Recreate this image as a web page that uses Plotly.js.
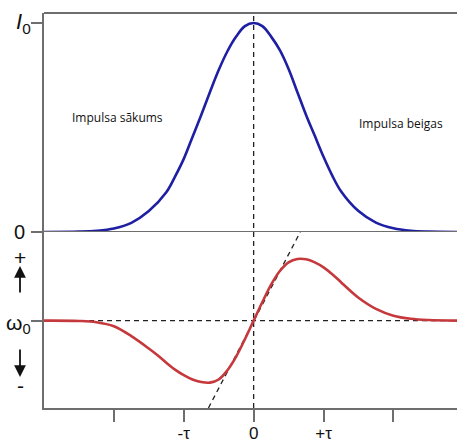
<!DOCTYPE html>
<html>
<head>
<meta charset="utf-8">
<script src="https://cdn.plot.ly/plotly-3.0.1.min.js"></script>
<style>html,body{margin:0;padding:0;background:#fff;}</style>
</head>
<body>
<div id="chart" style="width:457px;height:444px;"></div>
<script>
// time in units of tau
const tauI = [-3,-2.5,-2.25,-2,-1.75,-1.5,-1.25,-1.125,-1,-0.875,-0.75,-0.625,-0.5,-0.375,-0.25,-0.125,0,
              0.125,0.25,0.375,0.5,0.625,0.75,0.875,1,1.125,1.25,1.5,1.75,2,2.25,2.5,2.91];
// normalized intensity I/I0
const intensity = [0,0.002,0.006,0.017,0.044,0.10,0.19,0.265,0.35,0.455,0.56,0.67,0.775,0.865,0.935,0.985,1.0,
                   0.985,0.935,0.87,0.78,0.67,0.56,0.46,0.36,0.27,0.195,0.10,0.045,0.018,0.006,0.002,0];
// time for frequency curve
const tauW = [-3,-2.5,-2.25,-2,-1.75,-1.5,-1.375,-1.25,-1.125,-1,-0.875,-0.75,-0.625,-0.5,-0.375,-0.25,-0.125,0,
              0.125,0.25,0.375,0.5,0.625,0.75,0.875,1,1.125,1.25,1.375,1.5,1.75,2,2.25,2.5,2.91];
// frequency deviation from omega0 (relative units)
const freqDev = [0,-0.005,-0.025,-0.09,-0.25,-0.45,-0.56,-0.68,-0.79,-0.88,-0.95,-0.99,-1.0,-0.95,-0.80,-0.58,-0.30,0,
                 0.30,0.58,0.80,0.94,0.995,0.99,0.94,0.86,0.75,0.62,0.49,0.37,0.19,0.08,0.03,0.01,0];
// tangent at t = 0
const tangentX = [-0.647, 0.667];
const tangentY = [-1.41, 1.43];
// tick labels
const tickVals = [-2,-1,0,1,2];
const tickText = ['','-τ','0','+τ',''];

const axisCol = '#6e6e6e';
const W = 457, H = 444, L = 44, R = 0, T = 13, B = 36;
const pw = W - L - R, ph = H - T - B;
const split = (408 - 232) / ph;
const px = x => (x - L) / pw;
const py = y => (H - B - y) / ph;

const traces = [
  {x: tauI, y: intensity, xaxis: 'x', yaxis: 'y', mode: 'lines',
   line: {color: '#1f1fa3', width: 2.6, shape: 'spline', smoothing: 1}, hoverinfo: 'skip'},
  {x: tangentX, y: tangentY, xaxis: 'x', yaxis: 'y2', mode: 'lines',
   line: {color: '#222', width: 1.3, dash: '5px,4px'}, hoverinfo: 'skip'},
  {x: tauW, y: freqDev, xaxis: 'x', yaxis: 'y2', mode: 'lines',
   line: {color: '#c5383c', width: 2.6, shape: 'spline', smoothing: 1}, hoverinfo: 'skip'}
];

const fontL = 'Liberation Sans, Arial, sans-serif';
const layout = {
  width: W, height: H,
  margin: {l: L, r: R, t: T, b: B, pad: 0},
  paper_bgcolor: '#fff', plot_bgcolor: '#fff',
  showlegend: false,
  xaxis: {range: [-3, 2.91], anchor: 'y2', tickmode: 'array', tickvals: tickVals, ticktext: tickText,
          ticks: 'outside', ticklen: 12, tickwidth: 2, tickcolor: axisCol, ticklabelstandoff: -3,
          showline: true, linecolor: axisCol, linewidth: 2, showgrid: false, zeroline: false,
          tickfont: {family: fontL, size: 17, color: '#111'}, fixedrange: true},
  yaxis: {domain: [split, 1], range: [0, 1.048], anchor: 'x', tickmode: 'array', tickvals: [0, 1],
          ticks: 'outside', ticklen: 11, tickwidth: 2, tickcolor: axisCol, showticklabels: false,
          showline: true, linecolor: axisCol, linewidth: 2, showgrid: false, zeroline: false, fixedrange: true},
  yaxis2: {domain: [0, split], range: [-1.41, 1.43], anchor: 'x', tickmode: 'array', tickvals: [0],
          ticks: 'outside', ticklen: 11, tickwidth: 2, tickcolor: axisCol, showticklabels: false,
          showline: true, linecolor: axisCol, linewidth: 2, showgrid: false, zeroline: false, fixedrange: true},
  shapes: [
    {type: 'line', xref: 'paper', yref: 'paper', x0: 0, x1: 1, y0: 1, y1: 1,
     line: {color: axisCol, width: 2.2}},
    {type: 'line', xref: 'paper', yref: 'y', x0: 0, x1: 1, y0: 0, y1: 0,
     line: {color: axisCol, width: 2.2}},
    {type: 'line', xref: 'x', yref: 'paper', x0: 0, x1: 0, y0: 0, y1: 1, layer: 'below',
     line: {color: '#222', width: 1.3, dash: '5px,4px'}},
    {type: 'line', xref: 'paper', yref: 'y2', x0: 0, x1: 1, y0: 0, y1: 0, layer: 'below',
     line: {color: '#222', width: 1.3, dash: '5px,4px'}}
  ],
  annotations: [
    {xref: 'paper', yref: 'paper', x: px(33), y: py(23), xanchor: 'right', yanchor: 'middle',
     text: '<i>I</i><sub>0</sub>', showarrow: false, font: {family: fontL, size: 22, color: '#111'}},
    {xref: 'paper', yref: 'paper', x: px(27), y: py(232), xanchor: 'right', yanchor: 'middle',
     text: '0', showarrow: false, font: {family: fontL, size: 20, color: '#111'}},
    {xref: 'paper', yref: 'paper', x: px(33), y: py(324), xanchor: 'right', yanchor: 'middle',
     text: 'ω<sub>0</sub>', showarrow: false, font: {family: fontL, size: 21, color: '#111'}},
    {xref: 'paper', yref: 'paper', x: px(20), y: py(257), xanchor: 'center', yanchor: 'middle',
     text: '+', showarrow: false, font: {family: fontL, size: 21, color: '#111'}},
    {xref: 'paper', yref: 'paper', x: px(20), y: py(385), xanchor: 'center', yanchor: 'middle',
     text: '-', showarrow: false, font: {family: fontL, size: 21, color: '#111'}},
    {xref: 'paper', yref: 'paper', x: px(20), y: py(266), text: '', showarrow: true,
     ax: 0, ay: 28, arrowhead: 2, arrowsize: 1.3, arrowwidth: 1.8, arrowcolor: '#111', standoff: 0, startstandoff: 0},
    {xref: 'paper', yref: 'paper', x: px(20), y: py(377), text: '', showarrow: true,
     ax: 0, ay: -29, arrowhead: 2, arrowsize: 1.3, arrowwidth: 1.8, arrowcolor: '#111', standoff: 0, startstandoff: 0},
    {xref: 'paper', yref: 'paper', x: px(117.5), y: py(118), xanchor: 'center', yanchor: 'middle',
     text: 'Impulsa sākums', showarrow: false, font: {family: 'Open Sans, sans-serif', size: 12, color: '#111'}},
    {xref: 'paper', yref: 'paper', x: px(401), y: py(123), xanchor: 'center', yanchor: 'middle',
     text: 'Impulsa beigas', showarrow: false, font: {family: 'Open Sans, sans-serif', size: 12, color: '#111'}}
  ]
};

Plotly.newPlot('chart', traces, layout, {displayModeBar: false, staticPlot: true});
</script>
</body>
</html>
